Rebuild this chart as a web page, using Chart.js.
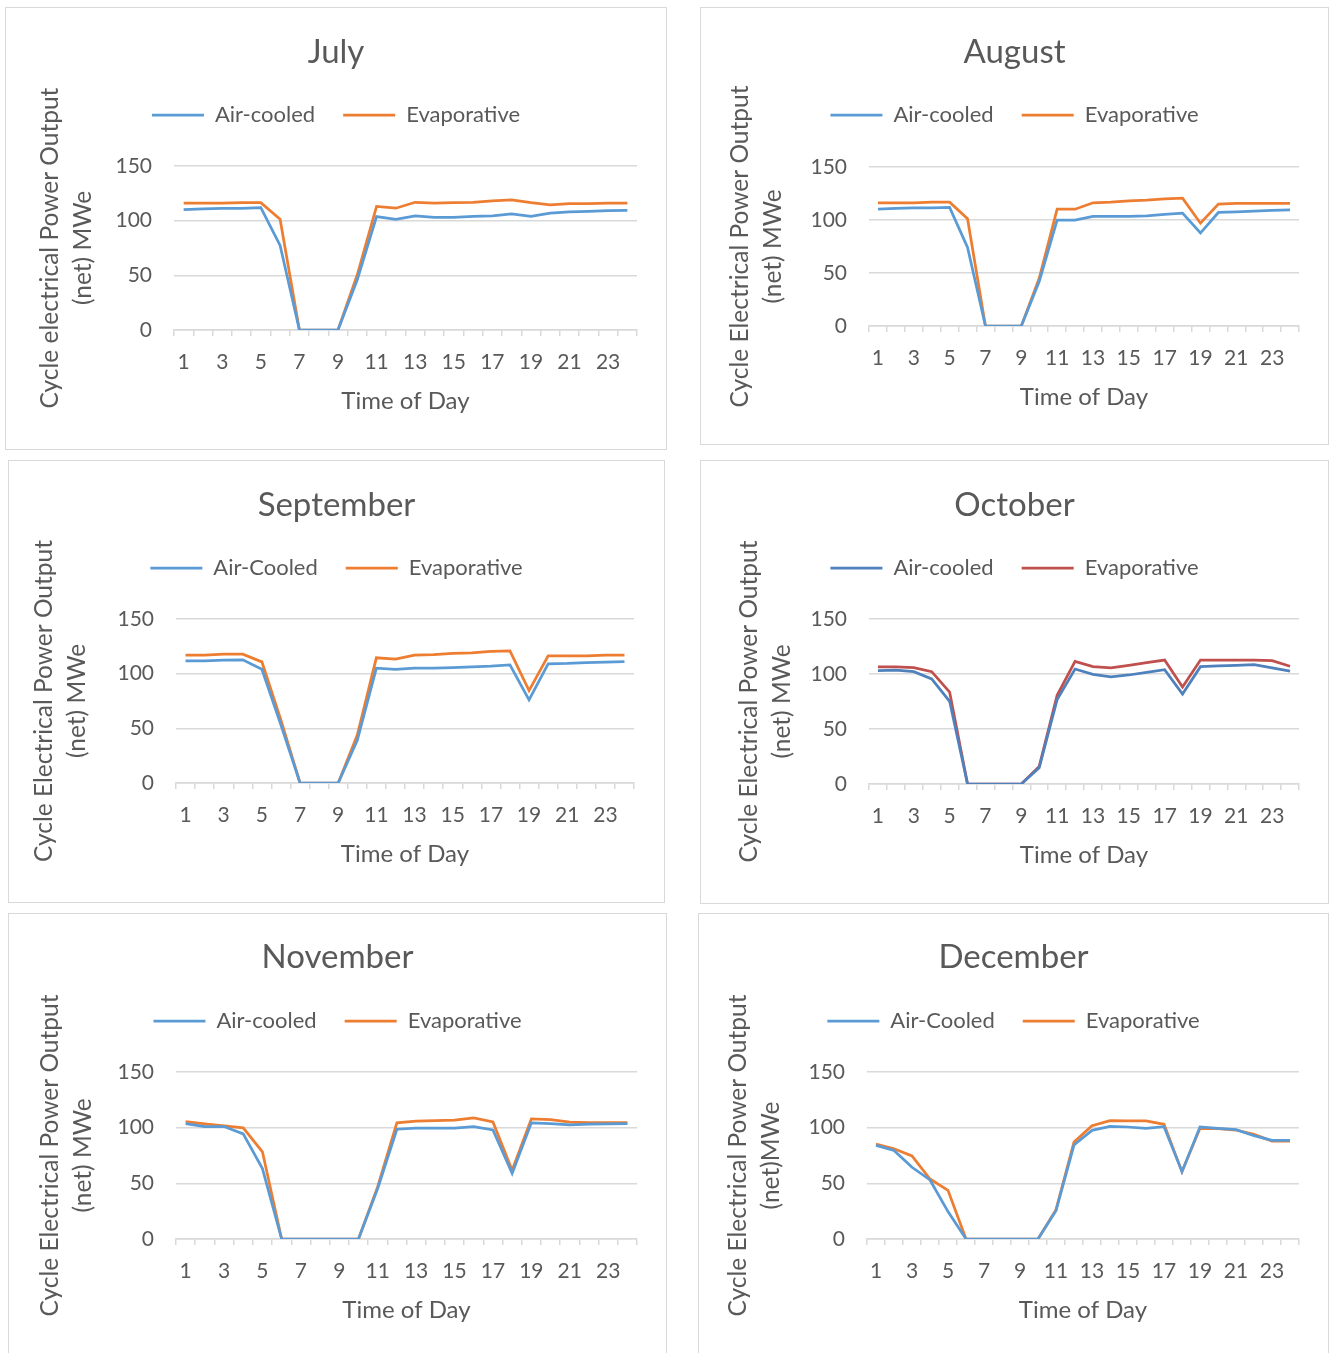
<!DOCTYPE html>
<html>
<head>
<meta charset="utf-8">
<title>Cycle electrical power output by hour, July to December</title>
<script src="https://cdn.jsdelivr.net/npm/chart.js@4.4.1/dist/chart.umd.min.js"></script>
<style>
  html, body { margin: 0; padding: 0; background: #fff; width: 1330px; height: 1353px; overflow: hidden; }
  .panel { position: absolute; box-sizing: border-box; border: 1px solid #d9d9d9; background: #fff; }
  .panel canvas { display: block; }
</style>
</head>
<body>
<script>
// Hours of the day shown on every x axis
const hours = ['1','2','3','4','5','6','7','8','9','10','11','12','13','14','15','16','17','18','19','20','21','22','23','24'];
const yMin = 0;
const yMax = 150;
const yStep = 50;

// Net cycle output, MWe, for each hour
const julyAir  = [110, 110.7, 111.3, 111.3, 112, 77.3, 0, 0, 0, 46, 103.7, 101.3, 104.3, 103.1, 103.1, 104, 104.3, 106.2, 104, 106.8, 108, 108.6, 109.2, 109.5];
const julyEvap = [116, 116, 116, 116.5, 116.5, 101.3, 0, 0, 0, 50.5, 113, 111.4, 116.8, 116, 116.5, 116.8, 118, 119, 116.5, 114.4, 115.6, 115.6, 116, 116];

const augAir  = [110.2, 110.9, 111.5, 111.5, 111.8, 74, 0, 0, 0, 42, 100, 100, 103.4, 103.4, 103.4, 104, 105.2, 106.5, 87.7, 107.1, 107.7, 108.4, 109, 109.6];
const augEvap = [116.2, 116.2, 116.2, 116.8, 116.8, 101.2, 0, 0, 0, 45, 110.2, 110.2, 116.2, 116.8, 118, 118.7, 120, 120.6, 97, 115, 115.6, 115.6, 115.6, 115.6];

const sepAir  = [111.7, 111.7, 112.3, 112.6, 104, 53, 0, 0, 0, 39, 105, 104, 105, 105, 105.6, 106.2, 106.8, 108, 76, 109, 109.3, 110, 110.5, 111.1];
const sepEvap = [116.9, 116.9, 117.8, 117.8, 110.8, 57.5, 0, 0, 0, 43.8, 114.5, 113.3, 116.9, 117.5, 118.5, 119, 120.3, 120.9, 84.5, 116.3, 116.3, 116.3, 116.9, 116.9];

const octAir  = [103, 103.6, 102.1, 95.5, 75.2, 0, 0, 0, 0, 14.8, 76.7, 104.5, 99.7, 97.3, 99.1, 101.5, 103.9, 81.8, 106.7, 107.3, 107.9, 108.5, 105.5, 102.7];
const octEvap = [106.4, 106.4, 105.8, 102.1, 83.6, 0, 0, 0, 0, 16, 80.6, 111.5, 106.7, 105.5, 107.9, 110.3, 112.7, 88.2, 112.7, 112.7, 112.7, 112.7, 112.1, 107];

const novAir  = [103.7, 101, 101, 94.4, 63.3, 0, 0, 0, 0, 0, 45.4, 98.6, 99.5, 99.5, 99.5, 101, 98, 58.9, 104.3, 103.7, 102.5, 103.1, 103.4, 103.7];
const novEvap = [105.5, 103.4, 101.6, 99.8, 78.3, 0, 0, 0, 0, 0, 47, 104.3, 105.8, 106.4, 106.7, 108.8, 105.2, 61.8, 107.9, 107.3, 104.9, 104.6, 104.6, 104.6];

const decAir  = [84.1, 79.6, 64.4, 53, 24.6, 0, 0, 0, 0, 0, 25.4, 84.4, 97.6, 101.2, 100.6, 99.4, 100.9, 60.5, 100.6, 99.4, 98.2, 92.8, 88.6, 88.6];
const decEvap = [85.3, 81.1, 74.6, 53.9, 43.7, 0, 0, 0, 0, 0, 26.3, 87.1, 101.8, 106.3, 106, 106, 103, 60.5, 99.4, 99.1, 97.9, 94, 88, 88];

// Text for each panel
const months = ['July', 'August', 'September', 'October', 'November', 'December'];
const airLabels = ['Air-cooled', 'Air-cooled', 'Air-Cooled', 'Air-cooled', 'Air-cooled', 'Air-Cooled'];
const evapLabel = 'Evaporative';
const yTitles = [
  ['Cycle electrical Power Output', '(net) MWe'],
  ['Cycle Electrical Power Output', '(net) MWe'],
  ['Cycle Electrical Power Output', '(net) MWe'],
  ['Cycle Electrical Power Output', '(net) MWe'],
  ['Cycle Electrical Power Output', '(net) MWe'],
  ['Cycle Electrical Power Output', '(net)MWe']
];
const xTitle = 'Time of Day';
const airSeries  = [julyAir, augAir, sepAir, octAir, novAir, decAir];
const evapSeries = [julyEvap, augEvap, sepEvap, octEvap, novEvap, decEvap];

// Styling and page layout
const TEXT = '#595959';
const GRID = '#d9d9d9';
const palettes = [
  ['#5B9BD5', '#ED7D31'], ['#5B9BD5', '#ED7D31'], ['#5B9BD5', '#ED7D31'],
  ['#4F81BD', '#C0504D'], ['#5B9BD5', '#ED7D31'], ['#5B9BD5', '#ED7D31']
];
// box: outer border edges; plot: chart area edges; other values: text centre lines
const layouts = [
  { box: [5, 7, 666, 449],       plot: [174, 637, 166, 330],   titleY: 52,  legendY: 115,  tickY: 362,  xTitleY: 401,  yTitleX: 50 },
  { box: [700, 7, 1328, 444],    plot: [869, 1299, 167, 326],  titleY: 52,  legendY: 115,  tickY: 358,  xTitleY: 397,  yTitleX: 740 },
  { box: [8, 460, 664, 902],     plot: [176, 634, 619, 783],   titleY: 505, legendY: 568,  tickY: 815,  xTitleY: 854,  yTitleX: 44 },
  { box: [700, 460, 1328, 903],  plot: [869, 1299, 619, 784],  titleY: 505, legendY: 568,  tickY: 816,  xTitleY: 855,  yTitleX: 749 },
  { box: [8, 913, 666, 1362],    plot: [176, 637, 1072, 1239], titleY: 957, legendY: 1021, tickY: 1271, xTitleY: 1310, yTitleX: 50 },
  { box: [698, 913, 1328, 1362], plot: [867, 1299, 1072, 1239], titleY: 957, legendY: 1021, tickY: 1271, xTitleY: 1310, yTitleX: 738 }
];

Chart.defaults.font.family = 'Lato, "Open Sans", sans-serif';
Chart.defaults.color = TEXT;

const TITLE_SIZE = 33, LEGEND_SIZE = 22, TICK_SIZE = 21, XTITLE_SIZE = 24, YTITLE_SIZE = 24.5;
const YTITLE_LINE = 1.35;
const LEGEND_GAP = 28, TICK_LEN = 6;

function buildPanel(i) {
  const L = layouts[i];
  const [x0, y0, x1, y1] = L.box;
  const [pl, pr, pt, pb] = L.plot;

  const div = document.createElement('div');
  div.className = 'panel';
  div.style.left = x0 + 'px';
  div.style.top = y0 + 'px';
  div.style.width = (x1 - x0 + 1) + 'px';
  div.style.height = (y1 - y0 + 1) + 'px';
  const canvas = document.createElement('canvas');
  const cw = x1 - x0 - 1, ch = y1 - y0 - 1;
  canvas.width = cw; canvas.height = ch;
  canvas.style.width = cw + 'px'; canvas.style.height = ch + 'px';
  div.appendChild(canvas);
  document.body.appendChild(div);

  const cx = x0 + 1, cy = y0 + 1;
  const titleLH = TITLE_SIZE * 1.2;
  const titleTop = L.titleY - cy - titleLH / 2;
  const titleBottom = L.legendY - LEGEND_GAP - LEGEND_SIZE / 2 - (L.titleY + titleLH / 2);
  const spacer = pt - (L.legendY + LEGEND_SIZE / 2 + 10);
  const tickLH = TICK_SIZE * 1.2;
  const xTitleLH = XTITLE_SIZE * 1.2;
  const yTitleLH = YTITLE_SIZE * YTITLE_LINE;
  const [airColor, evapColor] = palettes[i];

  new Chart(canvas, {
    type: 'line',
    data: {
      labels: hours,
      datasets: [
        { label: airLabels[i], data: airSeries[i], borderColor: airColor, backgroundColor: airColor,
          borderWidth: 2.75, pointRadius: 0, pointHoverRadius: 0, tension: 0, fill: false, yAxisID: 'y' },
        { label: evapLabel, data: evapSeries[i], borderColor: evapColor, backgroundColor: evapColor,
          borderWidth: 2.75, pointRadius: 0, pointHoverRadius: 0, tension: 0, fill: false, yAxisID: 'y' }
      ]
    },
    options: {
      responsive: false,
      animation: false,
      devicePixelRatio: 1,
      layout: { padding: 0 },
      plugins: {
        title: {
          display: true, text: months[i], color: TEXT,
          font: { size: TITLE_SIZE, weight: 'normal', lineHeight: 1.2 },
          padding: { top: titleTop, bottom: titleBottom }
        },
        legend: {
          display: true, position: 'top',
          labels: {
            usePointStyle: true, pointStyle: 'line', pointStyleWidth: 52,
            padding: LEGEND_GAP, color: TEXT,
            font: { size: LEGEND_SIZE }
          }
        },
        // empty strip between the legend and the plot
        subtitle: {
          display: true, text: '', weight: 500,
          font: { size: 1, lineHeight: 1 },
          padding: { top: 0, bottom: Math.max(spacer - 1, 0) }
        },
        tooltip: { enabled: false }
      },
      scales: {
        x: {
          type: 'category',
          offset: true,
          afterFit: (scale) => { scale.height = y1 - pb; },
          grid: { drawOnChartArea: false, drawTicks: true, tickLength: TICK_LEN, offset: true, color: GRID, lineWidth: 1.5 },
          border: { display: true, color: GRID, width: 1.5 },
          ticks: {
            autoSkip: false, maxRotation: 0, minRotation: 0, color: TEXT,
            font: { size: TICK_SIZE, lineHeight: 1.2 },
            padding: L.tickY - pb - TICK_LEN - tickLH / 2,
            callback: function (value, index) { return index % 2 === 0 ? this.getLabelForValue(value) : ''; }
          },
          title: {
            display: true, text: xTitle, color: TEXT,
            font: { size: XTITLE_SIZE, lineHeight: 1.2 },
            padding: { top: 0, bottom: y1 - L.xTitleY - xTitleLH / 2 }
          }
        },
        y: {
          min: yMin, max: yMax,
          afterFit: (scale) => { scale.width = pl - cx; },
          grid: { drawTicks: false, color: GRID, lineWidth: 1.5 },
          border: { display: false },
          ticks: { stepSize: yStep, padding: 22, color: TEXT, font: { size: TICK_SIZE, lineHeight: 1.2 } },
          title: {
            display: true, text: yTitles[i], color: TEXT,
            font: { size: YTITLE_SIZE, lineHeight: YTITLE_LINE },
            padding: { top: L.yTitleX - cx - yTitleLH / 2, bottom: 0 }
          }
        },
        // blank margin on the right of the plot
        yMargin: {
          position: 'right',
          afterFit: (scale) => { scale.width = x1 - pr; },
          grid: { display: false },
          border: { display: false },
          ticks: { display: false }
        }
      }
    }
  });
}

for (let i = 0; i < months.length; i++) buildPanel(i);
</script>
</body>
</html>
